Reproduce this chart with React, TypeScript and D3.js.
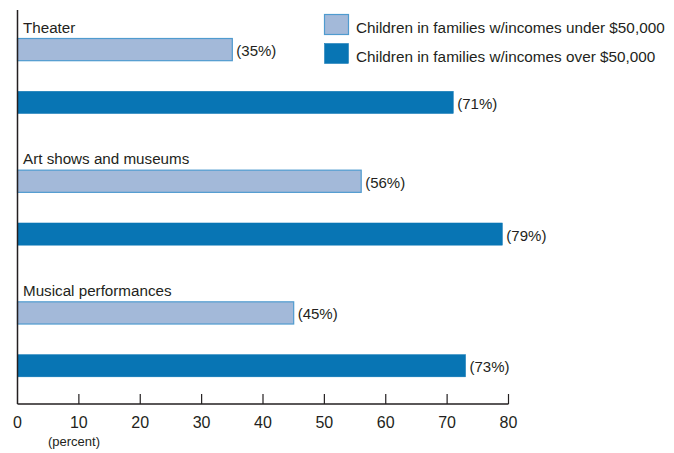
import React from "react";
import * as d3 from "d3";

const categories = ["Theater", "Art shows and museums", "Musical performances"];
const seriesNames = [
  "Children in families w/incomes under $50,000",
  "Children in families w/incomes over $50,000",
];
const underValues = [35, 56, 45];
const overValues = [71, 79, 73];
const xTicks = [0, 10, 20, 30, 40, 50, 60, 70, 80];

const W = 674;
const H = 453;
const FONT = "'Liberation Sans', Arial, sans-serif";
const TEXT = "#231f20";
const LIGHT_FILL = "#a3b9d9";
const LIGHT_STROKE = "#4f9bcf";
const DARK_FILL = "#0875b4";

export default function App() {
  const x = d3.scaleLinear().domain([0, 80]).range([17.5, 508.5]);
  const yGroup = d3.scaleBand<string>().domain(categories).range([8, 403]).padding(0);
  const ySeries = d3
    .scaleBand<string>()
    .domain(seriesNames)
    .range([30.5, 105.5])
    .paddingInner(0.58)
    .paddingOuter(0);
  const fills = [LIGHT_FILL, DARK_FILL];
  const strokes = [LIGHT_STROKE, DARK_FILL];
  const seriesValues = [underValues, overValues];
  const axisY = 404;

  return (
    <svg
      width={W}
      height={H}
      style={{ position: "absolute", left: 0, top: 0, background: "#fff" }}
      fontFamily={FONT}
    >
      {categories.map((c, i) => {
        const g0 = yGroup(c)!;
        return (
          <g key={c}>
            <text x={23} y={g0 + 24.5} fontSize={15.2} fill={TEXT}>
              {c}
            </text>
            {seriesNames.map((s, j) => {
              const v = seriesValues[j][i];
              const y0 = g0 + ySeries(s)!;
              const bh = ySeries.bandwidth();
              return (
                <g key={s}>
                  <rect
                    x={x(0)}
                    y={y0}
                    width={x(v) - x(0)}
                    height={bh}
                    fill={fills[j]}
                    stroke={strokes[j]}
                    strokeWidth={j === 0 ? 1.2 : 0.5}
                  />
                  <text x={x(v) + 4} y={y0 + bh / 2 + 6.5} fontSize={15} fill={TEXT}>
                    {`(${v}%)`}
                  </text>
                </g>
              );
            })}
          </g>
        );
      })}

      {/* axes */}
      <line x1={x(0)} x2={x(0)} y1={10} y2={axisY} stroke={TEXT} strokeWidth={1.5} />
      <line x1={x(0)} x2={x(80)} y1={axisY} y2={axisY} stroke={TEXT} strokeWidth={1.5} />
      {xTicks.map((t) => (
        <g key={t}>
          {t !== 0 && (
            <line x1={x(t)} x2={x(t)} y1={axisY - 10} y2={axisY} stroke={TEXT} strokeWidth={1.2} />
          )}
          <text x={x(t)} y={428} fontSize={16} textAnchor="middle" fill={TEXT}>
            {t}
          </text>
        </g>
      ))}
      <text x={74} y={446} fontSize={13} textAnchor="middle" fill={TEXT}>
        (percent)
      </text>

      {/* legend */}
      {seriesNames.map((s, j) => (
        <g key={s}>
          <rect
            x={324.5}
            y={14.5 + j * 29}
            width={24}
            height={20}
            fill={fills[j]}
            stroke={strokes[j]}
            strokeWidth={j === 0 ? 1.2 : 0.5}
          />
          <text x={356} y={32.5 + j * 29} fontSize={15.3} fill={TEXT}>
            {s}
          </text>
        </g>
      ))}
    </svg>
  );
}
